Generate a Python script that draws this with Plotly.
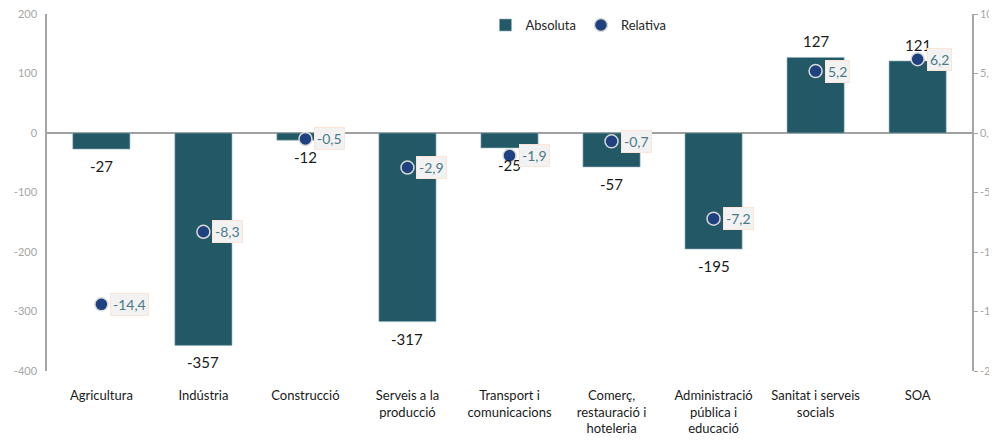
import plotly.graph_objects as go

# sectors
categories = ["Agricultura", "Indústria", "Construcció", "Serveis a la<br>producció",
              "Transport i<br>comunicacions", "Comerç,<br>restauració i<br>hoteleria",
              "Administració<br>pública i<br>educació", "Sanitat i serveis<br>socials", "SOA"]
absoluta = [-27, -357, -12, -317, -25, -57, -195, 127, 121]
relativa = [-14.4, -8.3, -0.5, -2.9, -1.9, -0.7, -7.2, 5.2, 6.2]

left_ticks = [200, 100, 0, -100, -200, -300, -400]
right_ticks = [10, 5, 0, -5, -10, -15, -20]
left_text = [str(v) for v in left_ticks]
right_text = [f"{v:.1f}".replace(".", ",") for v in right_ticks]

def comma(v):
  return f"{v:.1f}".replace(".", ",")

fig = go.Figure()

fig.add_trace(go.Bar(
  x=categories, y=absoluta, name="Absoluta",
  marker=dict(color="#235966", line=dict(color="#8fb0b8", width=0.6)),
  width=0.56,
))

fig.add_trace(go.Scatter(
  x=categories, y=relativa, name="Relativa", yaxis="y2", mode="markers",
  marker=dict(size=13, color="#1f4180", line=dict(color="#d9d9d9", width=1.5)),
))

# bar value labels, a bit away from the bar end
for c, v in zip(categories, absoluta):
  fig.add_annotation(
    x=c, y=v, text=str(v), showarrow=False, yanchor="middle",
    yshift=16 if v > 0 else -17,
    font=dict(size=15, color="#1a1a1a"),
  )

# labels for the relative values, boxed to the right of each point
for c, v in zip(categories, relativa):
  fig.add_annotation(
    x=c, y=v, yref="y2", text=comma(v), showarrow=False,
    xanchor="left", xshift=9,
    font=dict(size=14, color="#4a7a88"),
    bgcolor="#f2f2f2", bordercolor="#fbe5d6", borderwidth=1, borderpad=2,
  )

# page body has an 8px margin, so the figure is a bit smaller than the window
fig.update_layout(
  width=989, height=433,
  margin=dict(l=39, r=25, t=6, b=70, autoexpand=False),
  plot_bgcolor="white", paper_bgcolor="white",
  font=dict(family="Lato, Open Sans, sans-serif", size=13, color="#1a1a1a"),
  showlegend=True,
  legend=dict(orientation="h", x=0.474, xanchor="left", y=0.969, yanchor="middle",
              font=dict(size=13, color="#262626"), bgcolor="rgba(0,0,0,0)",
              itemwidth=30),
  xaxis=dict(showline=False, showgrid=False, ticks="outside", ticklen=12,
             tickcolor="rgba(0,0,0,0)", tickfont=dict(size=13, color="#1a1a1a")),
  yaxis=dict(range=[-400, 200], tickvals=left_ticks, ticktext=left_text,
             showgrid=False, ticklabeloverflow="allow",
             showline=True, linecolor="#a6a6a6", linewidth=1.5,
             zeroline=True, zerolinecolor="#a0a0a0", zerolinewidth=1.5,
             ticks="outside", ticklen=6, tickcolor="rgba(0,0,0,0)",
             tickfont=dict(size=11, color="#a6a6a6")),
  yaxis2=dict(range=[-20, 10], overlaying="y", side="right",
              tickvals=right_ticks, ticktext=right_text, showgrid=False,
              ticklabeloverflow="allow",
              showline=True, linecolor="#a6a6a6", linewidth=1.5, zeroline=False,
              ticks="outside", ticklen=4, tickcolor="#a6a6a6",
              tickfont=dict(size=11, color="#a6a6a6")),
)

fig.write_html("out.html")
